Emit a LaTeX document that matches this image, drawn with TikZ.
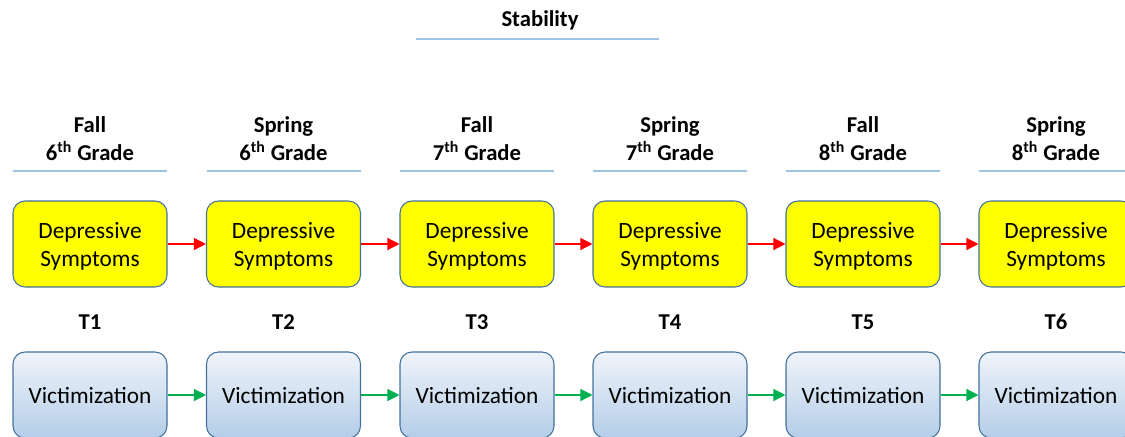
\documentclass[tikz,border=0pt]{standalone}
\usepackage{fontspec}
\setmainfont{Carlito}
\usetikzlibrary{arrows.meta}
\definecolor{boxedge}{RGB}{65,113,156}
\definecolor{rule}{RGB}{157,195,230}
\definecolor{dsfill}{RGB}{255,255,0}
\definecolor{vtop}{RGB}{240,244,250}
\definecolor{vbot}{RGB}{180,205,232}
\definecolor{stabred}{RGB}{255,0,0}
\definecolor{stabgreen}{RGB}{0,176,80}
\tikzset{
  dsbox/.style={draw=boxedge, line width=0.8pt, fill=dsfill, rounded corners=9pt,
    minimum width=115.5pt, minimum height=64.5pt, inner sep=0pt,
    align=center, font=\fontsize{17.5}{21}\selectfont},
  vbox/.style={draw=boxedge, line width=0.8pt, top color=vtop, bottom color=vbot,
    rounded corners=9pt, minimum width=115.5pt, minimum height=64.5pt, inner sep=0pt,
    align=center, font=\fontsize{17.5}{21}\selectfont},
  head/.style={align=center, font=\bfseries\fontsize{17}{21}\selectfont, inner sep=0pt},
  rulesty/.style={draw=rule, line width=0.9pt},
  redarrow/.style={draw=stabred, line width=0.9pt, -{Triangle[length=9pt,width=9pt]}},
  greenarrow/.style={draw=stabgreen, line width=0.9pt, -{Triangle[length=9pt,width=9pt]}}
}
\begin{document}
\begin{tikzpicture}[x=0.75pt, y=-0.75pt]
\useasboundingbox (0,0) rectangle (1125,436);
\clip (0,0) rectangle (1125,436);
% title
\node[head] (title) at (540,20.5) {Stability};
\coordinate (tl) at (416,39);
\coordinate (tr) at (659,39);
\draw[rulesty] (tl) -- (tr);
% six waves
\foreach \i/\cx/\season/\g in {1/90/Fall/6, 2/283.5/Spring/6, 3/477/Fall/7, 4/670/Spring/7, 5/863/Fall/8, 6/1056/Spring/8} {
  \node[head] (h\i) at (\cx,139) {\season\\\g\textsuperscript{th} Grade};
  \coordinate (hl\i) at (\cx-77,171);
  \coordinate (hr\i) at (\cx+77,171);
  \draw[rulesty] (hl\i) -- (hr\i);
  \node[dsbox] (d\i) at (\cx,244) {};
  \node[align=center, font=\fontsize{17.5}{21}\selectfont, inner sep=0pt] (dt\i) at (\cx,246) {Depressive\\Symptoms};
  \node[head] (t\i) at (\cx,322) {T\i};
  \node[vbox] (v\i) at (\cx,395) {};
  \node[font=\fontsize{17.5}{21}\selectfont, inner sep=0pt] (vt\i) at (\cx,396) {Victimization};
}
\foreach \a/\b in {1/2,2/3,3/4,4/5,5/6} {
  \draw[redarrow] (d\a) -- (d\b);
  \draw[greenarrow] (v\a) -- (v\b);
}
\end{tikzpicture}
\end{document}
